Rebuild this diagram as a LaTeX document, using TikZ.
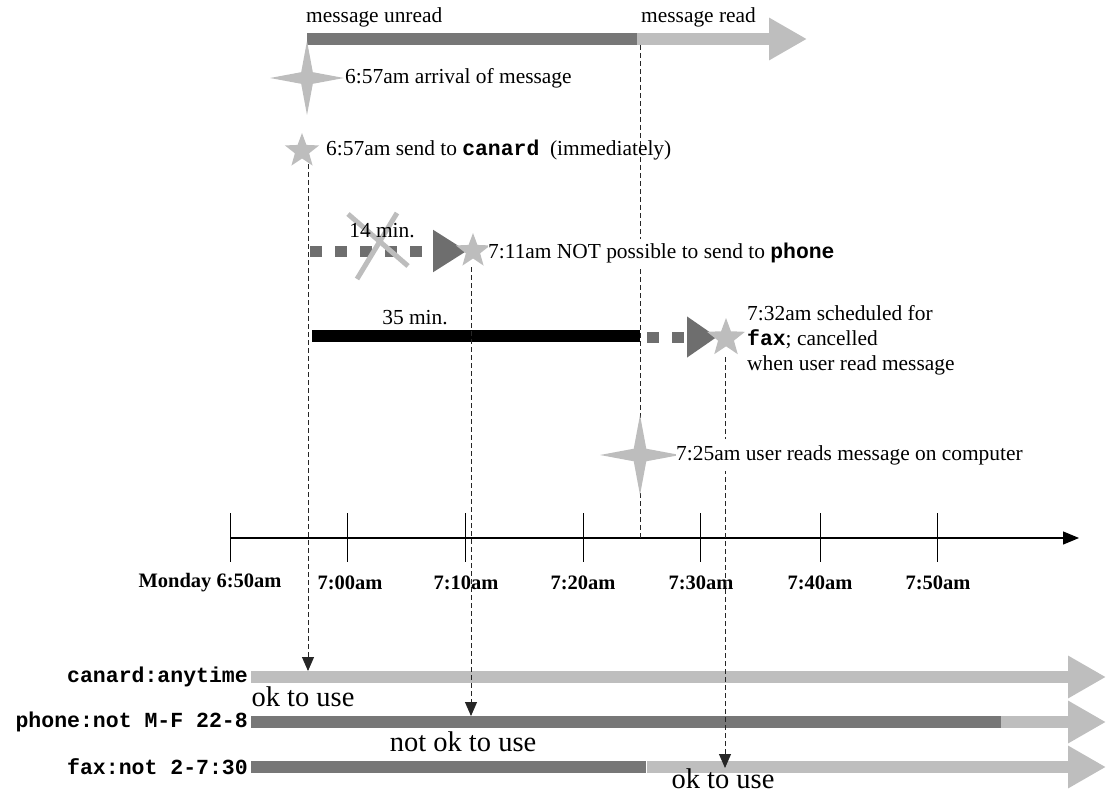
\documentclass[tikz,border=0pt]{standalone}
\usepackage{fontspec}
\setmainfont{Liberation Serif}
\setmonofont{Liberation Mono}
\usetikzlibrary{arrows.meta,shapes.geometric}
\definecolor{bardark}{HTML}{777777}
\definecolor{barlight}{HTML}{BEBEBE}
\definecolor{starc}{HTML}{BDBDBD}
\definecolor{headc}{HTML}{6E6E6E}

\begin{document}
\begin{tikzpicture}[x=1pt, y=-1pt,
  txt/.style={font=\fontsize{21.4}{25}\selectfont, inner sep=0pt},
  ticklab/.style={font=\fontsize{20.5}{25}\selectfont\bfseries, inner sep=0pt},
  chan/.style={font=\fontsize{21.5}{25}\selectfont\ttfamily\bfseries, inner sep=0pt, anchor=east},
  usetxt/.style={font=\fontsize{28.5}{32}\selectfont, inner sep=0pt},
  darkbar/.style={line width=12pt, bardark},
  lightarr/.style={line width=12pt, barlight, -{Triangle[length=38pt,width=40pt]}},
  sparkle/.style={star, star points=4, star point ratio=4.5, fill=starc, inner sep=0pt},
  smallstar/.style={star, star points=5, star point ratio=2.4, fill=starc, inner sep=0pt},
  dashline/.style={dash pattern=on 5pt off 3pt, line width=0.9pt, black!85, -{Triangle[length=14pt,width=12pt]}},
  squares/.style={line width=11pt, bardark, dash pattern=on 12pt off 13pt}]
  \useasboundingbox (0,0) rectangle (1107,794);

  % message state
  \draw[darkbar] (307,39) -- (637,39);
  \draw[lightarr] (637,39) -- (807,39);
  \node[txt, anchor=west] (unread) at (306,17) {message unread};
  \node[txt, anchor=west] (readtxt) at (641,17) {message read};

  % channels
  \draw[lightarr] (251,677) -- (1106,677);
  \draw[darkbar] (251,722) -- (1001,722);
  \draw[lightarr] (1001,722) -- (1106,722);
  \draw[darkbar] (251,767) -- (646,767);
  \draw[lightarr] (647,767) -- (1106,767);
  \node[chan] (canard) at (248,677) {canard:anytime};
  \node[chan] (phone) at (248,722) {phone:not M-F 22-8};
  \node[chan] (fax) at (248,767) {fax:not 2-7:30};
  \node[usetxt, anchor=base] (okcanard) at (303,706) {ok to use};
  \node[usetxt, anchor=base] (nokphone) at (463,751) {not ok to use};
  \node[usetxt, anchor=base] (okfax) at (723,788) {ok to use};

  % fax attempt bar
  \draw[line width=12pt, black] (312,336) -- (640,336);
  \draw[squares, -{Triangle[length=30pt,width=39pt]}, headc] (647,337) -- (717,337);

  % time axis
  \draw[line width=1.2pt, -{Triangle[length=16pt,width=13pt]}] (230,538) -- (1079,538);
  \draw[line width=1pt] (230,513) -- (230,562);
  \draw[line width=1pt] (347,513) -- (347,562);
  \draw[line width=1pt] (465,513) -- (465,562);
  \draw[line width=1pt] (583,513) -- (583,562);
  \draw[line width=1pt] (700,513) -- (700,562);
  \draw[line width=1pt] (820,513) -- (820,562);
  \draw[line width=1pt] (937,513) -- (937,562);
  \node[ticklab] (t650) at (210,583) {Monday 6:50am};
  \node[ticklab] (t700) at (350,583) {7:00am};
  \node[ticklab] (t710) at (466,583) {7:10am};
  \node[ticklab] (t720) at (583,583) {7:20am};
  \node[ticklab] (t730) at (701,583) {7:30am};
  \node[ticklab] (t740) at (820,583) {7:40am};
  \node[ticklab] (t750) at (938,583) {7:50am};

  % time marks used by the dashed drops
  \coordinate (d657) at (308,164);
  \coordinate (d711) at (471,267);
  \coordinate (d725) at (640,45);
  \coordinate (d732) at (725,357);
  \coordinate (canardhit) at (308,671);
  \coordinate (phonehit) at (471,716);
  \coordinate (axhit) at (640,538);
  \coordinate (faxhit) at (725,768);

  % dashed drops
  \draw[dashline] (d657) -- (canardhit);
  \draw[dashline] (d711) -- (phonehit);
  \draw[dashline, -] (d725) -- (axhit);
  \draw[dashline] (d732) -- (faxhit);

  % arrival
  \node[sparkle, minimum size=74pt] (arrive) at (307,78) {};
  \node[txt, anchor=west] (arrivetxt) at (345,78) {6:57am arrival of message};

  % canard
  \node[smallstar, minimum size=36pt] (send) at (302,151) {};
  \node[txt, anchor=west] (sendtxt) at (326,150) {6:57am send to \texttt{\bfseries canard}\ \ (immediately)};

  % phone attempt
  \draw[squares, -{Triangle[length=34pt,width=40pt]}, headc] (310,251) -- (467,251);
  \draw[starc, line width=5pt] (348,214) -- (408,266);
  \draw[starc, line width=5pt] (397,213) -- (357,279);
  \node[txt] (fourteen) at (382,231) {14 min.};
  \node[smallstar, minimum size=36pt] (nophone) at (473,251) {};
  \node[txt, anchor=west, fill=white, inner ysep=4pt] (nophonetxt) at (488,253) {7:11am NOT possible to send to \texttt{\bfseries phone}};

  % fax attempt
  \node[txt] (thirtyfive) at (415,318) {35 min.};
  \node[smallstar, minimum size=40pt] (faxstar) at (726,338) {};
  \node[txt, anchor=west, align=left] (faxtxt) at (747,340) {7:32am scheduled for\\\texttt{\bfseries fax}; cancelled\\when user read message};

  % user reads
  \node[sparkle, minimum size=80pt] (reads) at (640,455) {};
  \node[txt, anchor=west, fill=white, inner ysep=6pt] (readstxt) at (676,455) {7:25am user reads message on computer};
\end{tikzpicture}
\end{document}
